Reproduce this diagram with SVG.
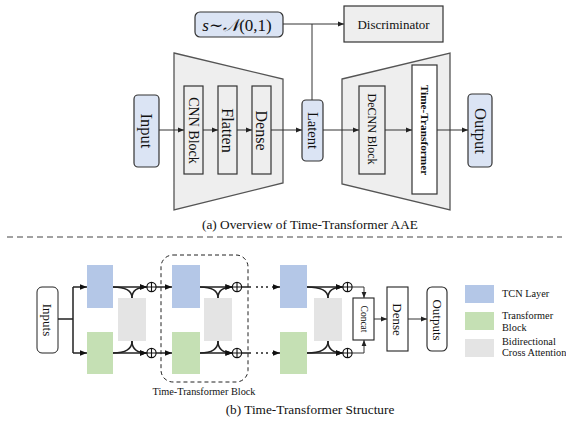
<svg xmlns="http://www.w3.org/2000/svg" width="566" height="423" viewBox="0 0 566 423">
<defs>
<marker id="ah" viewBox="0 0 10 10" refX="10" refY="5" markerWidth="6" markerHeight="6" markerUnits="userSpaceOnUse" orient="auto">
<path d="M0,1 L10,5 L0,9 z" fill="#222"/>
</marker>
<marker id="ab" viewBox="0 0 10 10" refX="10" refY="5" markerWidth="7" markerHeight="7" markerUnits="userSpaceOnUse" orient="auto">
<path d="M0,1 L10,5 L0,9 z" fill="#111"/>
</marker>
</defs>
<style>
text{font-family:"Liberation Serif","DejaVu Serif",serif;fill:#111}
.blue{fill:#dbe4f4;stroke:#333;stroke-width:1.2}
.trap{fill:#eeeeee;stroke:#555;stroke-width:1.3}
.wb{fill:#eeeeee;stroke:#333;stroke-width:1.2}
.wb2{fill:#ffffff;stroke:#333;stroke-width:1.2}
.ln{fill:none;stroke:#333;stroke-width:1}
.bl{fill:none;stroke:#222;stroke-width:1.5}
.tcn{fill:#b4c7e7}
.tr{fill:#c5e0b4}
.att{fill:#e4e4e4}
.pl{fill:#fff;stroke:#111;stroke-width:1.2}
.vt{dominant-baseline:central;text-anchor:middle}
.lg{font-size:10.3px}
</style>

<!-- Part (a) -->
<g id="encoder"><polygon class="trap" points="174,53 283,79 283,183 174,210"/></g>
<g id="decoder"><polygon class="trap" points="342,79 450,53 450,210 342,184"/></g>

<g id="noise"><rect class="blue" x="195" y="12" width="88" height="25" rx="5"/>
<text x="237" y="31" font-size="17" text-anchor="middle"><tspan font-style="italic">s</tspan>∼<tspan font-style="italic">𝒩</tspan>(0,1)</text></g>
<g id="discriminator"><rect class="wb" x="344" y="6" width="99" height="36"/>
<text x="393.5" y="28.5" font-size="13" text-anchor="middle">Discriminator</text></g>

<g id="input"><rect class="blue" x="134" y="95" width="25" height="72" rx="4"/>
<text class="vt" font-size="16.5" transform="translate(146.5,131) rotate(90)">Input</text></g>
<g id="cnn"><rect class="wb" x="184" y="86" width="19" height="88"/>
<text class="vt" font-size="14" transform="translate(193.5,130.5) rotate(90)">CNN Block</text></g>
<g id="flatten"><rect class="wb" x="218" y="86" width="19" height="88"/>
<text class="vt" font-size="16" transform="translate(227.5,130.5) rotate(90)">Flatten</text></g>
<g id="dense"><rect class="wb" x="252" y="86" width="19" height="88"/>
<text class="vt" font-size="16" transform="translate(261.5,130.5) rotate(90)">Dense</text></g>
<g id="latent"><rect class="blue" x="302" y="100" width="21" height="61" rx="4"/>
<text class="vt" font-size="14.5" transform="translate(312.5,130.5) rotate(90)">Latent</text></g>
<g id="decnn"><rect class="wb" x="359" y="86" width="26" height="88"/>
<text class="vt" font-size="12" transform="translate(372,129) rotate(90)">DeCNN Block</text></g>
<g id="timetransformer"><rect class="wb2" x="412" y="65" width="25" height="129"/>
<text class="vt" font-size="11.3" font-weight="bold" transform="translate(424.5,130) rotate(90)">Time-Transformer</text></g>
<g id="output"><rect class="blue" x="468" y="94" width="24" height="73" rx="4"/>
<text class="vt" font-size="16.5" transform="translate(480,131) rotate(90)">Output</text></g>

<g id="connectors-a">
<line class="ln" x1="283" y1="24" x2="344" y2="24" marker-end="url(#ah)"/>
<line class="ln" x1="312" y1="24" x2="312" y2="100"/>
<line class="ln" x1="159" y1="130" x2="184" y2="130" marker-end="url(#ah)"/>
<line class="ln" x1="203" y1="130" x2="218" y2="130" marker-end="url(#ah)"/>
<line class="ln" x1="237" y1="130" x2="252" y2="130" marker-end="url(#ah)"/>
<line class="ln" x1="271" y1="130" x2="302" y2="130" marker-end="url(#ah)"/>
<line class="ln" x1="323" y1="130" x2="359" y2="130" marker-end="url(#ah)"/>
<line class="ln" x1="385" y1="130" x2="412" y2="130" marker-end="url(#ah)"/>
<line class="ln" x1="437" y1="130" x2="468" y2="130" marker-end="url(#ah)"/>
</g>

<text x="310" y="229" font-size="13.3" text-anchor="middle">(a) Overview of Time-Transformer AAE</text>
<line x1="7" y1="237" x2="562" y2="237" stroke="#444" stroke-width="1" stroke-dasharray="6,4"/>

<!-- Part (b) -->
<g id="inputs"><rect x="37" y="287" width="21" height="66" rx="5" fill="#fff" stroke="#222" stroke-width="1"/>
<text class="vt" font-size="13" transform="translate(47.5,320) rotate(90)">Inputs</text></g>

<g id="tt-block"><rect x="161" y="255" width="87" height="127" rx="12" fill="none" stroke="#222" stroke-width="1" stroke-dasharray="4,3"/>
<text x="204" y="395" font-size="10.3" text-anchor="middle">Time-Transformer Block</text></g>

<g id="tcn1"><rect class="tcn" x="87" y="265" width="26" height="43"/></g>
<g id="trf1"><rect class="tr" x="87" y="332" width="26" height="42"/></g>
<g id="att1"><rect class="att" x="118" y="298" width="28" height="43"/></g>
<g id="tcn2"><rect class="tcn" x="172" y="265" width="28" height="43"/></g>
<g id="trf2"><rect class="tr" x="172" y="332" width="28" height="42"/></g>
<g id="att2"><rect class="att" x="204" y="298" width="28" height="43"/></g>
<g id="tcn3"><rect class="tcn" x="280" y="265" width="27" height="43"/></g>
<g id="trf3"><rect class="tr" x="280" y="332" width="27" height="42"/></g>
<g id="att3"><rect class="att" x="314" y="298" width="28" height="43"/></g>

<g id="plus1t"><circle class="pl" cx="151.5" cy="287" r="4.6"/><path d="M146.9,287h9.2M151.5,282.4v9.2" stroke="#111" stroke-width="1.1"/></g>
<g id="plus1b"><circle class="pl" cx="151.5" cy="353" r="4.6"/><path d="M146.9,353h9.2M151.5,348.4v9.2" stroke="#111" stroke-width="1.1"/></g>
<g id="plus2t"><circle class="pl" cx="237" cy="287" r="4.6"/><path d="M232.4,287h9.2M237,282.4v9.2" stroke="#111" stroke-width="1.1"/></g>
<g id="plus2b"><circle class="pl" cx="237" cy="353" r="4.6"/><path d="M232.4,353h9.2M237,348.4v9.2" stroke="#111" stroke-width="1.1"/></g>
<g id="plus3t"><circle class="pl" cx="347.5" cy="287" r="4.6"/><path d="M342.9,287h9.2M347.5,282.4v9.2" stroke="#111" stroke-width="1.1"/></g>
<g id="plus3b"><circle class="pl" cx="347.5" cy="353" r="4.6"/><path d="M342.9,353h9.2M347.5,348.4v9.2" stroke="#111" stroke-width="1.1"/></g>

<g id="concat"><rect x="353" y="298" width="21" height="42" fill="#fff" stroke="#222" stroke-width="1.1"/>
<text class="vt" font-size="9.5" transform="translate(363.5,319) rotate(90)">Concat</text></g>
<g id="dense-b"><rect x="387" y="287" width="21" height="64" fill="#fff" stroke="#222" stroke-width="1.1"/>
<text class="vt" font-size="13" transform="translate(397.5,319.5) rotate(90)">Dense</text></g>
<g id="outputs"><rect x="427" y="287" width="20" height="64" rx="5" fill="#fff" stroke="#222" stroke-width="1.1"/>
<text class="vt" font-size="13" transform="translate(437,320) rotate(90)">Outputs</text></g>

<g id="legend-tcn"><rect class="tcn" x="465" y="285" width="29" height="18"/><text class="lg" x="502" y="297">TCN Layer</text></g>
<g id="legend-trf"><rect class="tr" x="465" y="312" width="29" height="18"/><text class="lg" x="502" y="319">Transformer</text><text class="lg" x="502" y="330.5">Block</text></g>
<g id="legend-att"><rect class="att" x="465" y="339" width="29" height="18"/><text class="lg" x="502" y="344.5">Bidirectional</text><text class="lg" x="502" y="356">Cross Attention</text></g>

<g id="connectors-b">
<path class="bl" d="M58,319 H73 M73,287 V353"/>
<line class="bl" x1="73" y1="287" x2="87" y2="287" marker-end="url(#ab)"/>
<line class="bl" x1="73" y1="353" x2="87" y2="353" marker-end="url(#ab)"/>
<line class="bl" x1="113" y1="287" x2="147" y2="287" marker-end="url(#ab)"/>
<line class="bl" x1="113" y1="353" x2="147" y2="353" marker-end="url(#ab)"/>
<path class="bl" d="M113,287 C124,287 132,290 132,298"/>
<path class="bl" d="M132,298 C132,290 138,287 147,287" marker-end="url(#ab)"/>
<path class="bl" d="M113,353 C124,353 132,350 132,341"/>
<path class="bl" d="M132,341 C132,350 138,353 147,353" marker-end="url(#ab)"/>
<line class="bl" x1="156" y1="287" x2="172" y2="287" marker-end="url(#ab)"/>
<line class="bl" x1="156" y1="353" x2="172" y2="353" marker-end="url(#ab)"/>
<line class="bl" x1="200" y1="287" x2="232.4" y2="287" marker-end="url(#ab)"/>
<line class="bl" x1="200" y1="353" x2="232.4" y2="353" marker-end="url(#ab)"/>
<path class="bl" d="M200,287 C211,287 218,290 218,298"/>
<path class="bl" d="M218,298 C218,290 224,287 232.4,287" marker-end="url(#ab)"/>
<path class="bl" d="M200,353 C211,353 218,350 218,341"/>
<path class="bl" d="M218,341 C218,350 224,353 232.4,353" marker-end="url(#ab)"/>
<line class="bl" x1="241.6" y1="287" x2="251" y2="287"/>
<line class="bl" x1="241.6" y1="353" x2="251" y2="353"/>
<path d="M256,287h2M261,287h2M266,287h2M256,353h2M261,353h2M266,353h2" stroke="#222" stroke-width="1.5"/>
<line class="bl" x1="272" y1="287" x2="280" y2="287" marker-end="url(#ab)"/>
<line class="bl" x1="272" y1="353" x2="280" y2="353" marker-end="url(#ab)"/>
<line class="bl" x1="307" y1="287" x2="342.9" y2="287" marker-end="url(#ab)"/>
<line class="bl" x1="307" y1="353" x2="342.9" y2="353" marker-end="url(#ab)"/>
<path class="bl" d="M307,287 C319,287 328,290 328,298"/>
<path class="bl" d="M328,298 C328,290 334,287 342.9,287" marker-end="url(#ab)"/>
<path class="bl" d="M307,353 C319,353 328,350 328,341"/>
<path class="bl" d="M328,341 C328,350 334,353 342.9,353" marker-end="url(#ab)"/>
<path class="ln" d="M352.1,287 H364 V298" marker-end="url(#ah)"/>
<path class="ln" d="M352.1,353 H364 V340" marker-end="url(#ah)"/>
<line class="ln" x1="374" y1="319" x2="387" y2="319" marker-end="url(#ah)"/>
<line class="ln" x1="408" y1="319" x2="427" y2="319" marker-end="url(#ah)"/>
</g>

<text x="310" y="414" font-size="13.3" text-anchor="middle">(b) Time-Transformer Structure</text>
</svg>
